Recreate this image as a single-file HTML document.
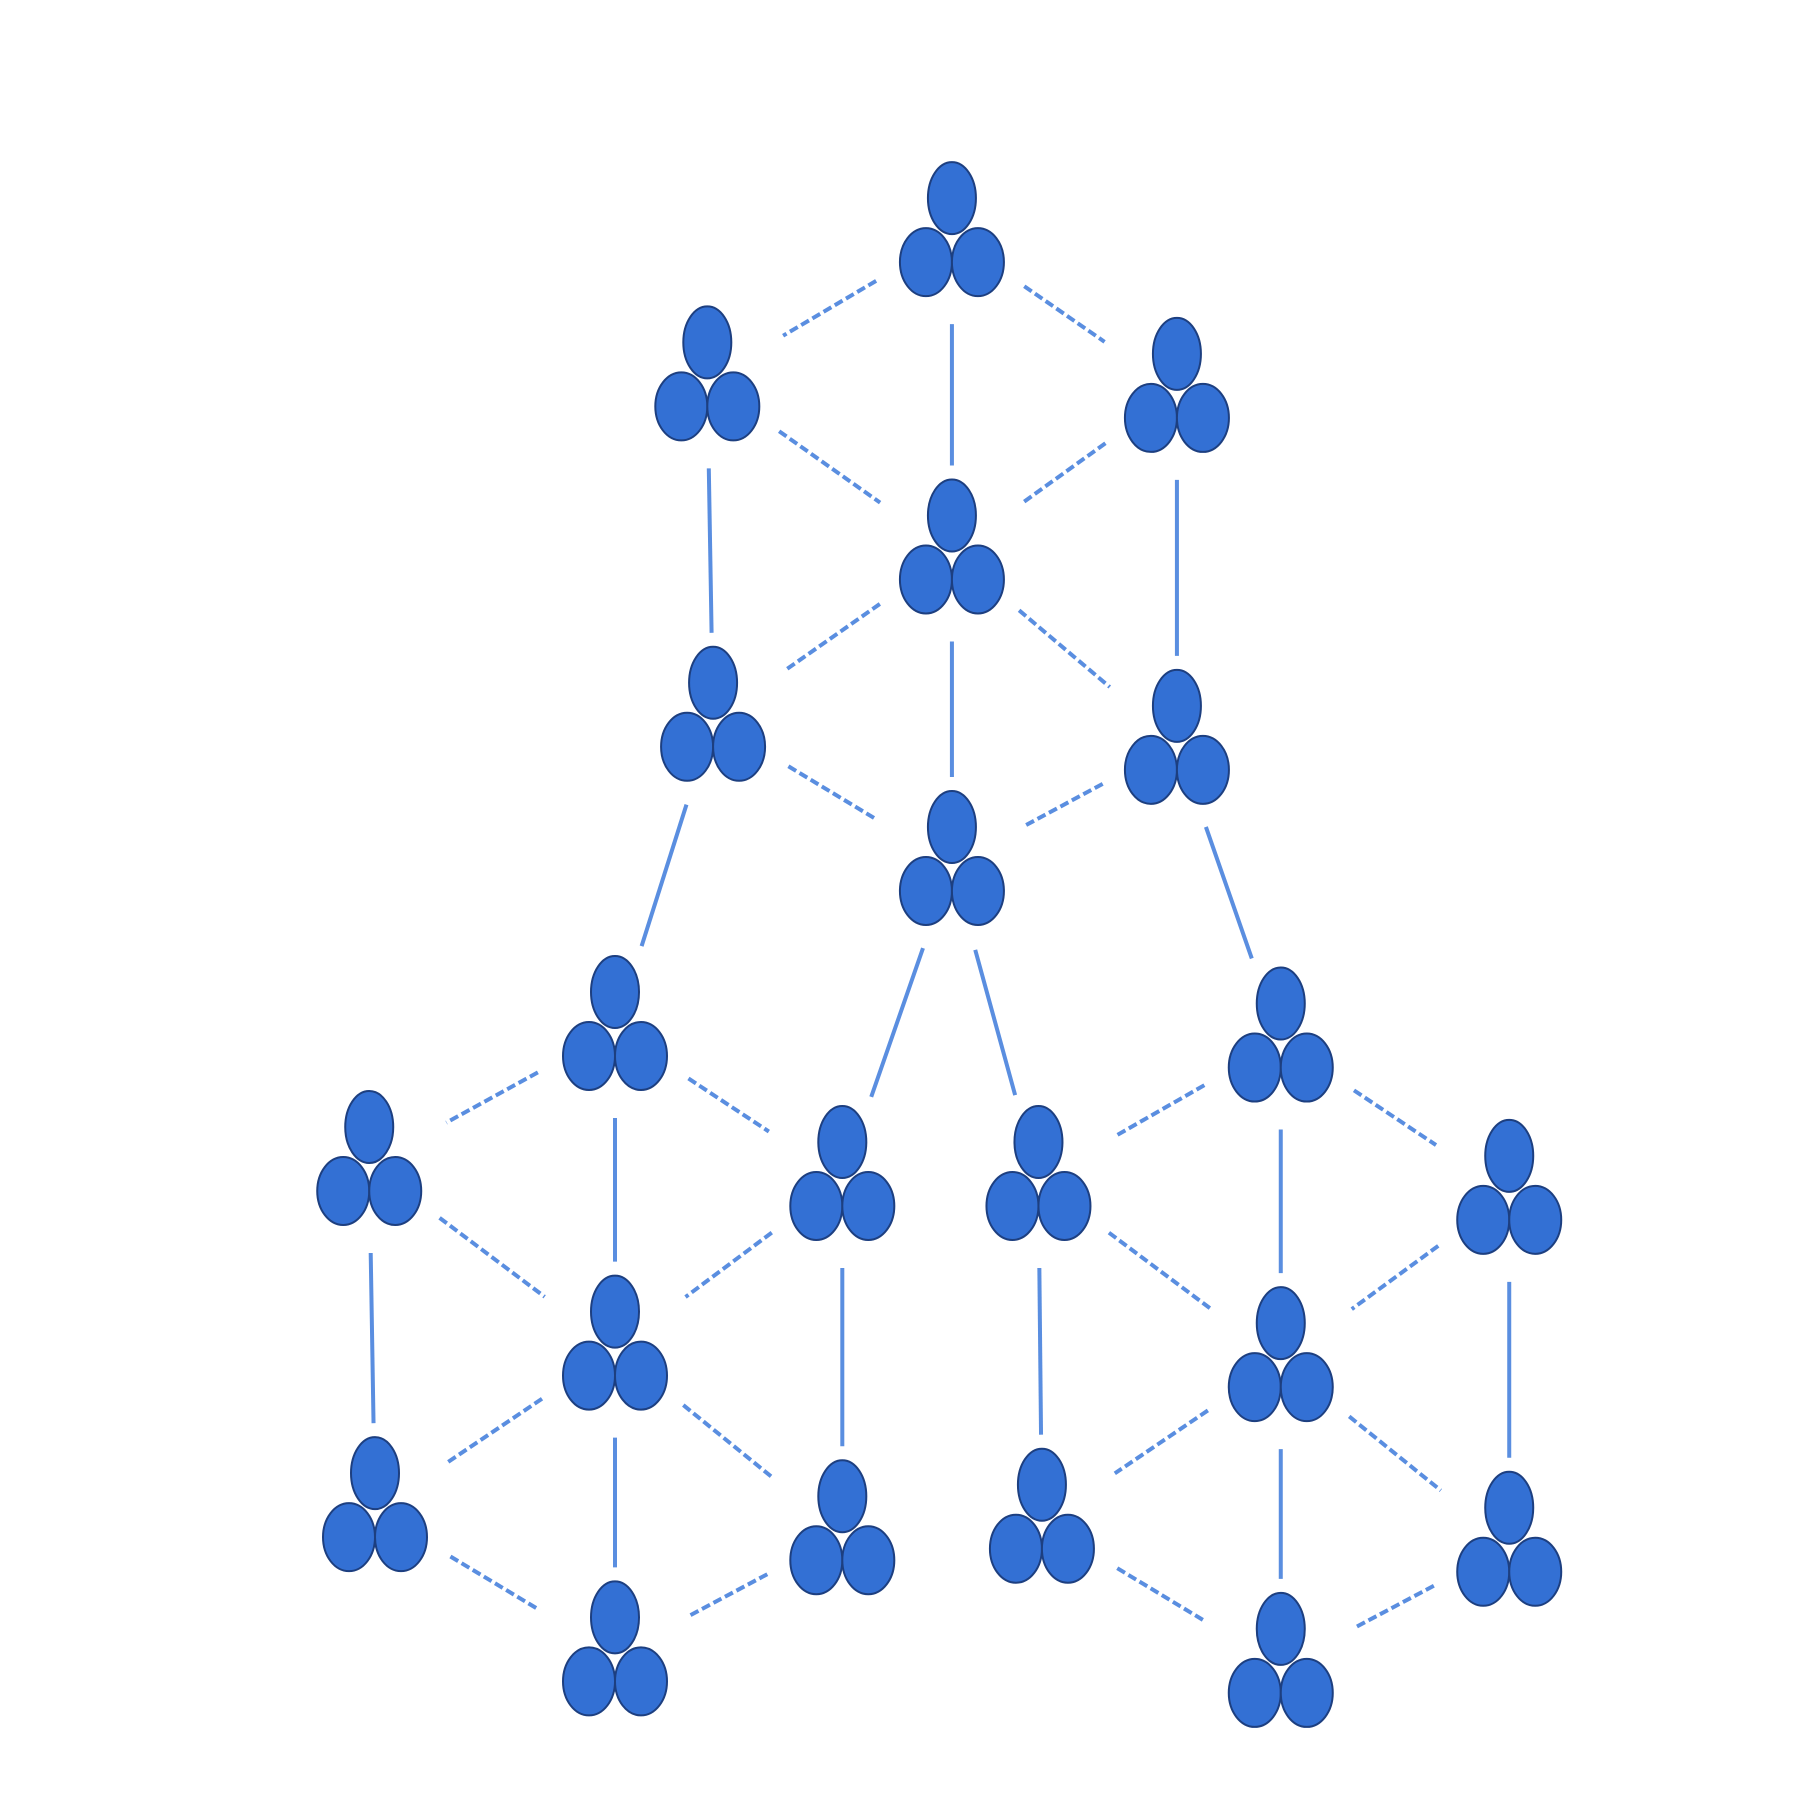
<!DOCTYPE html>
<html><head><meta charset="utf-8"><style>
html,body{margin:0;padding:0;background:#fff;}
svg{display:block;}
</style></head><body>
<svg id="c" width="1800" height="1800" viewBox="0 0 1800 1800" xmlns="http://www.w3.org/2000/svg"></svg>
<script>
const S = 1800/1560;
const nodeX = [825,613,1020,825,618,1020,825,533,1110,320,730,900,1308,533,1110,325,730,903,1308,533,1110];
const nodeY = [170,295,305,445,590,610,715,858,868,975,988,988,1000,1135,1145,1275,1295,1285,1305,1400,1410];
const edgeFrom = [1,1,1,2,3,2,3,4,4,4,5,6,5,6,7,7, 8,8,8,10,11,10,11,14,14,14,16,17, 9,9,9,12,13,12,13,15,15,15,18,19];
const edgeTo   = [2,3,4,4,4,5,6,5,6,7,7,7,8,9,11,12, 10,11,14,14,14,16,17,16,17,20,20,20, 12,13,15,15,15,18,19,18,19,21,21,21];
const edgeSolid= [0,0,1,0,0,1,1,0,0,1,0,0,1,1,1,1, 0,0,1,0,0,1,1,0,0,1,0,0, 0,0,1,0,0,1,1,0,0,1,0,0];
const svg = document.getElementById('c');
const NS = 'http://www.w3.org/2000/svg';
function cx(i){return nodeX[i]*S;}
function cy(i){return nodeY[i]*S+40;}
for(let k=0;k<edgeFrom.length;k++){
  const a=edgeFrom[k]-1,b=edgeTo[k]-1;
  const x1=cx(a),y1=cy(a),x2=cx(b),y2=cy(b);
  const d=Math.hypot(x2-x1,y2-y1);
  const g=Math.min(88,d*0.33);
  const ux=(x2-x1)/d,uy=(y2-y1)/d;
  const l=document.createElementNS(NS,'line');
  l.setAttribute('x1',x1+ux*g);l.setAttribute('y1',y1+uy*g);
  l.setAttribute('x2',x2-ux*g);l.setAttribute('y2',y2-uy*g);
  l.setAttribute('stroke','#5a8ee0');
  l.setAttribute('stroke-width','4');
  if(!edgeSolid[k]) l.setAttribute('stroke-dasharray','9 4');
  
  
  svg.appendChild(l);
}
for(let i=0;i<nodeX.length;i++){
  const X=nodeX[i]*S,Y=nodeY[i]*S+2;
  const g=document.createElementNS(NS,'g');
  
  
  [[X,Y,24,36],[X-26,Y+64,26,34],[X+26,Y+64,26,34]].forEach(e=>{
    const el=document.createElementNS(NS,'ellipse');
    el.setAttribute('cx',e[0]);el.setAttribute('cy',e[1]);
    el.setAttribute('rx',e[2]);el.setAttribute('ry',e[3]);
    el.setAttribute('fill','#3370d4');
    el.setAttribute('stroke','#1d3f80');
    el.setAttribute('stroke-width','2');
    g.appendChild(el);
  });
  svg.appendChild(g);
}
</script>
</body></html>
